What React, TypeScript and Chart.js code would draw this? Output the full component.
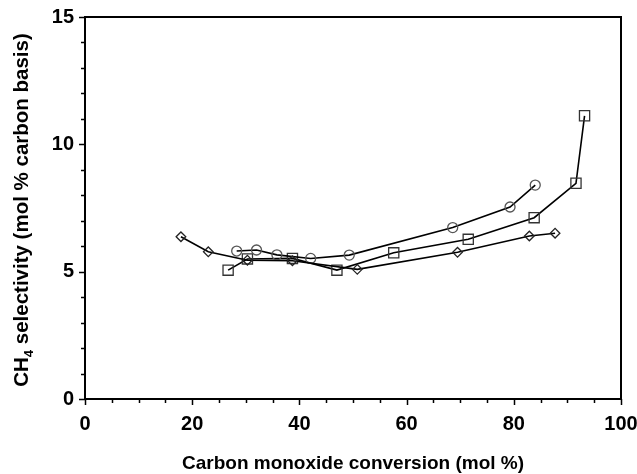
import { useEffect, useRef } from 'react';
import { Chart, registerables } from 'chart.js';

Chart.register(...registerables);

// Data
const diamondX = [17.9, 23.0, 30.3, 38.7, 50.8, 69.5, 82.9, 87.7];
const diamondY = [6.37, 5.78, 5.45, 5.43, 5.09, 5.76, 6.4, 6.51];
const circleX = [28.3, 32.0, 35.8, 42.1, 49.3, 68.6, 79.3, 84.0];
const circleY = [5.81, 5.85, 5.66, 5.52, 5.65, 6.73, 7.54, 8.4];
const squareX = [26.7, 30.3, 38.7, 47.0, 57.6, 71.5, 83.8, 91.6, 93.2];
const squareY = [5.06, 5.5, 5.52, 5.06, 5.74, 6.27, 7.12, 8.47, 11.12];

const xMajorTicks = [0, 20, 40, 60, 80, 100];
const yMajorTicks = [0, 5, 10, 15];
const xMinorStep = 5;
const yMinorStep = 1;

const xTitle = 'Carbon monoxide conversion (mol %)';
const yTitleMain = 'CH';
const yTitleSub = '4';
const yTitleRest = ' selectivity (mol % carbon basis)';

const FONT = "'Liberation Sans', Arial, Helvetica, sans-serif";

const toPoints = (xs: number[], ys: number[]) => xs.map((x, i) => ({ x, y: ys[i] }));

const framePlugin = {
  id: 'frameAndTitles',
  afterDraw(chart: any) {
    const { ctx, chartArea } = chart;
    const { left, right, top, bottom } = chartArea;
    const xs = chart.scales.x;
    const ys = chart.scales.y;
    ctx.save();
    ctx.strokeStyle = '#000';
    ctx.lineWidth = 2;
    ctx.strokeRect(left, top, right - left, bottom - top);

    ctx.lineWidth = 1.5;
    ctx.beginPath();
    for (let v = ys.min; v <= ys.max + 1e-9; v += yMinorStep) {
      const py = Math.round(ys.getPixelForValue(v)) + 0.5;
      const len = yMajorTicks.includes(v) ? 6 : 4;
      ctx.moveTo(left - len, py);
      ctx.lineTo(left, py);
    }
    for (let v = xs.min; v <= xs.max + 1e-9; v += xMinorStep) {
      const px = Math.round(xs.getPixelForValue(v)) + 0.5;
      const len = xMajorTicks.includes(v) ? 6 : 4;
      ctx.moveTo(px, bottom);
      ctx.lineTo(px, bottom + len);
    }
    ctx.stroke();

    // X title
    ctx.fillStyle = '#000';
    ctx.font = `bold 19px ${FONT}`;
    ctx.textAlign = 'center';
    ctx.textBaseline = 'middle';
    ctx.fillText(xTitle, (left + right) / 2, 464);

    // Y title with subscript
    const mainFont = `bold 20.5px ${FONT}`;
    const subFont = `bold 13px ${FONT}`;
    ctx.font = mainFont;
    const w1 = ctx.measureText(yTitleMain).width;
    const w3 = ctx.measureText(yTitleRest).width;
    ctx.font = subFont;
    const w2 = ctx.measureText(yTitleSub).width;
    const total = w1 + w2 + w3;
    ctx.translate(22, 210);
    ctx.rotate(-Math.PI / 2);
    ctx.textAlign = 'left';
    ctx.textBaseline = 'middle';
    let cx = -total / 2;
    ctx.font = mainFont;
    ctx.fillText(yTitleMain, cx, 0);
    cx += w1;
    ctx.font = subFont;
    ctx.fillText(yTitleSub, cx, 7);
    cx += w2;
    ctx.font = mainFont;
    ctx.fillText(yTitleRest, cx, 0);
    ctx.restore();
  },
};

export default function App() {
  const ref = useRef<HTMLCanvasElement | null>(null);

  useEffect(() => {
    if (!ref.current) return;
    const lineCommon = {
      borderColor: '#000',
      borderWidth: 1.6,
      backgroundColor: 'rgba(0,0,0,0)',
      pointBackgroundColor: 'rgba(0,0,0,0)',
      pointBorderWidth: 1.3,
      showLine: true,
      tension: 0,
      clip: false as any,
    };
    const chart = new Chart(ref.current, {
      type: 'scatter',
      data: {
        datasets: [
          {
            ...lineCommon,
            label: 'Diamonds',
            data: toPoints(diamondX, diamondY),
            pointStyle: 'rectRot',
            pointRadius: 4.8,
            pointBorderColor: '#222',
          },
          {
            ...lineCommon,
            label: 'Circles',
            data: toPoints(circleX, circleY),
            pointStyle: 'circle',
            pointRadius: 5,
            pointBorderColor: '#555',
          },
          {
            ...lineCommon,
            label: 'Squares',
            data: toPoints(squareX, squareY),
            pointStyle: 'rect',
            pointRadius: 7.2,
            pointBorderColor: '#333',
          },
        ],
      },
      options: {
        responsive: false,
        maintainAspectRatio: false,
        animation: false,
        devicePixelRatio: 1,
        layout: { padding: { top: 17, right: 16, left: 0, bottom: 0 } },
        plugins: { legend: { display: false }, tooltip: { enabled: false } },
        scales: {
          x: {
            type: 'linear',
            min: 0,
            max: 100,
            afterBuildTicks: (scale: any) => {
              scale.ticks = xMajorTicks.map((v) => ({ value: v }));
            },
            afterFit: (scale: any) => {
              scale.height = 75;
              scale.paddingLeft = 0;
              scale.paddingRight = 0;
            },
            grid: { display: false, drawTicks: false },
            border: { display: false },
            ticks: {
              padding: 13,
              maxRotation: 0,
              autoSkip: false,
              color: '#000',
              font: { family: FONT, size: 20, weight: 'bold' },
            },
          },
          y: {
            type: 'linear',
            min: 0,
            max: 15,
            afterBuildTicks: (scale: any) => {
              scale.ticks = yMajorTicks.map((v) => ({ value: v }));
            },
            afterFit: (scale: any) => {
              scale.width = 85;
              scale.paddingTop = 0;
              scale.paddingBottom = 0;
            },
            grid: { display: false, drawTicks: false },
            border: { display: false },
            ticks: {
              padding: 11,
              autoSkip: false,
              color: '#000',
              font: { family: FONT, size: 20, weight: 'bold' },
            },
          },
        },
      },
      plugins: [framePlugin],
    } as any);
    return () => chart.destroy();
  }, []);

  return (
    <div style={{ position: 'fixed', left: 0, top: 0, width: 637, height: 474, background: '#fff' }}>
      <canvas ref={ref} width={637} height={474} />
    </div>
  );
}
